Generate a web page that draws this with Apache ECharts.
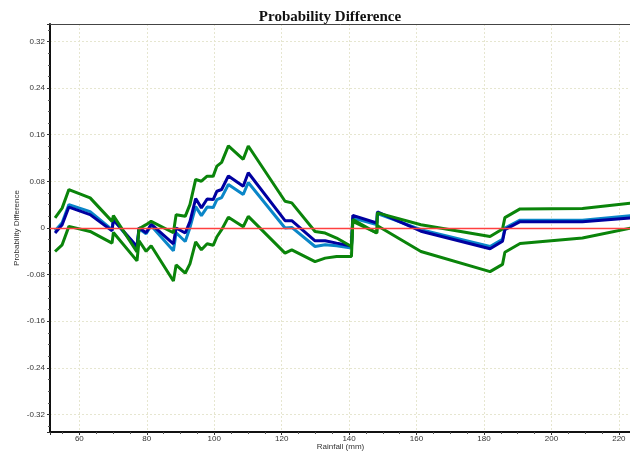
<!DOCTYPE html>
<html>
<head>
<meta charset="utf-8">
<script src="https://cdn.jsdelivr.net/npm/echarts@6/dist/echarts.min.js"></script>
<style>
  html, body { margin: 0; padding: 0; background: #fff; }
  #chart { width: 630px; height: 452px; }
</style>
</head>
<body>
<div id="chart"></div>
<script>
// rainfall (mm) at each breakpoint
var rainfall = [52.8, 54.9, 56.9, 63.2, 69.7, 70.1, 77.1, 77.7, 79.8, 81.3,
  87.9, 88.7, 91.4, 92.8, 94.5, 96.2, 97.9, 99.7, 100.8, 102.2,
  104.2, 108.6, 110.1, 121.0, 123.0, 129.9, 132.9, 136.3, 140.7, 141.1,
  148.2, 148.4, 161.3, 181.8, 185.5, 186.2, 190.7, 209.2, 223.6];

// upper green
var upperBand = [0.0172, 0.0341, 0.0660, 0.0517, 0.0114, 0.0212, -0.0409, -0.0012, 0.0057, 0.0114,
  -0.0081, 0.0229, 0.0200, 0.0402, 0.0833, 0.0803, 0.0890, 0.0890, 0.1062, 0.1126,
  0.1410, 0.1178, 0.1407, 0.0459, 0.0431, -0.0059, -0.0086, -0.0172, -0.0317, 0.0143,
  -0.0086, 0.0259, 0.0057, -0.0145, -0.0017, 0.0178, 0.0328, 0.0336, 0.0428];

// navy
var estimate = [-0.0086, 0.0057, 0.0359, 0.0229, -0.0047, 0.0143, -0.0317, 0.0005, -0.0081, 0.0066,
  -0.0271, 0.0000, -0.0086, 0.0109, 0.0505, 0.0345, 0.0497, 0.0488, 0.0631, 0.0660,
  0.0893, 0.0717, 0.0948, 0.0126, 0.0126, -0.0219, -0.0219, -0.0259, -0.0310, 0.0217,
  0.0086, 0.0276, -0.0055, -0.0357, -0.0228, -0.0029, 0.0109, 0.0109, 0.0172];

// light blue
var estimate2 = [-0.0047, 0.0091, 0.0402, 0.0281, -0.0029, 0.0143, -0.0348, -0.0012, -0.0098, 0.0040,
  -0.0391, -0.0081, -0.0231, 0.0005, 0.0367, 0.0212, 0.0359, 0.0350, 0.0488, 0.0522,
  0.0747, 0.0574, 0.0781, 0.0000, 0.0010, -0.0317, -0.0288, -0.0305, -0.0345, 0.0172,
  0.0057, 0.0247, -0.0029, -0.0317, -0.0193, -0.0003, 0.0134, 0.0134, 0.0212];

// lower green
var lowerBand = [-0.0403, -0.0288, 0.0028, -0.0059, -0.0259, -0.0076, -0.0564, -0.0219, -0.0400, -0.0305,
  -0.0909, -0.0633, -0.0776, -0.0616, -0.0236, -0.0374, -0.0271, -0.0297, -0.0150, -0.0029,
  0.0186, 0.0022, 0.0200, -0.0431, -0.0374, -0.0576, -0.0517, -0.0490, -0.0490, 0.0114,
  -0.0086, 0.0040, -0.0403, -0.0748, -0.0624, -0.0417, -0.0267, -0.0172, 0.0000];

function pairs(ys) {
  return rainfall.map(function (x, i) { return [x, ys[i]]; });
}

var labelFont = { fontFamily: "Liberation Sans", fontSize: 8, color: "#333" };
var gridLine = { show: true, lineStyle: { color: "#e6e6d0", type: [2, 2], width: 1 } };

var mychart = echarts.init(document.getElementById("chart"));
mychart.setOption({
  animation: false,
  title: {
    text: "Probability Difference",
    left: 325,
    top: 5,
    textAlign: "center",
    textStyle: { fontFamily: "Liberation Serif", fontWeight: "bold", fontSize: 15, color: "#111" }
  },
  grid: {
    left: 50, right: -1, top: 24, bottom: 20,
    containLabel: false,
    outerBoundsMode: "none",
    show: false
  },
  xAxis: [{
    type: "value",
    min: 51.3, max: 223.6,
    splitNumber: 8, minInterval: 20, maxInterval: 20,
    name: "Rainfall (mm)",
    nameLocation: "middle",
    nameGap: 11,
    nameMoveOverlap: false,
    nameTextStyle: labelFont,
    axisLine: { onZero: false, lineStyle: { color: "#111", width: 2 } },
    axisTick: { length: 3, lineStyle: { color: "#333" } },
    minorTick: { show: true, splitNumber: 4, length: 2, lineStyle: { color: "#555" } },
    axisLabel: Object.assign({ margin: 3, showMinLabel: false, showMaxLabel: false }, labelFont),
    splitLine: gridLine
  }, {
    // top frame line
    type: "value", position: "top",
    min: 51.3, max: 223.6,
    axisLine: { onZero: false, lineStyle: { color: "#444", width: 1 } },
    axisTick: { show: false }, axisLabel: { show: false }, splitLine: { show: false }
  }],
  yAxis: {
    type: "value",
    min: -0.35, max: 0.35,
    splitNumber: 9, minInterval: 0.08, maxInterval: 0.08,
    name: "Probability Difference",
    nameLocation: "middle",
    nameGap: 29,
    nameMoveOverlap: false,
    nameTextStyle: labelFont,
    axisLine: { onZero: false, lineStyle: { color: "#111", width: 2 } },
    axisTick: { length: 3, lineStyle: { color: "#333" } },
    minorTick: { show: true, splitNumber: 4, length: 2, lineStyle: { color: "#555" } },
    axisLabel: Object.assign({ margin: 5, showMinLabel: false, showMaxLabel: false }, labelFont),
    splitLine: gridLine
  },
  series: [
    {
      type: "line", data: pairs(estimate2), symbol: "none",
      lineStyle: { color: "#0a86c8", width: 3 },
      markLine: {
        silent: true, symbol: ["none", "none"], label: { show: false },
        data: [{ yAxis: 0, lineStyle: { color: "#ff4040", width: 1.3, type: "solid", opacity: 1 } }]
      }
    },
    { type: "line", data: pairs(estimate), symbol: "none", lineStyle: { color: "#0000a0", width: 3 } },
    { type: "line", data: pairs(upperBand), symbol: "none", lineStyle: { color: "#0a840a", width: 3 } },
    { type: "line", data: pairs(lowerBand), symbol: "none", lineStyle: { color: "#0a840a", width: 3 } }
  ]
});
</script>
</body>
</html>
